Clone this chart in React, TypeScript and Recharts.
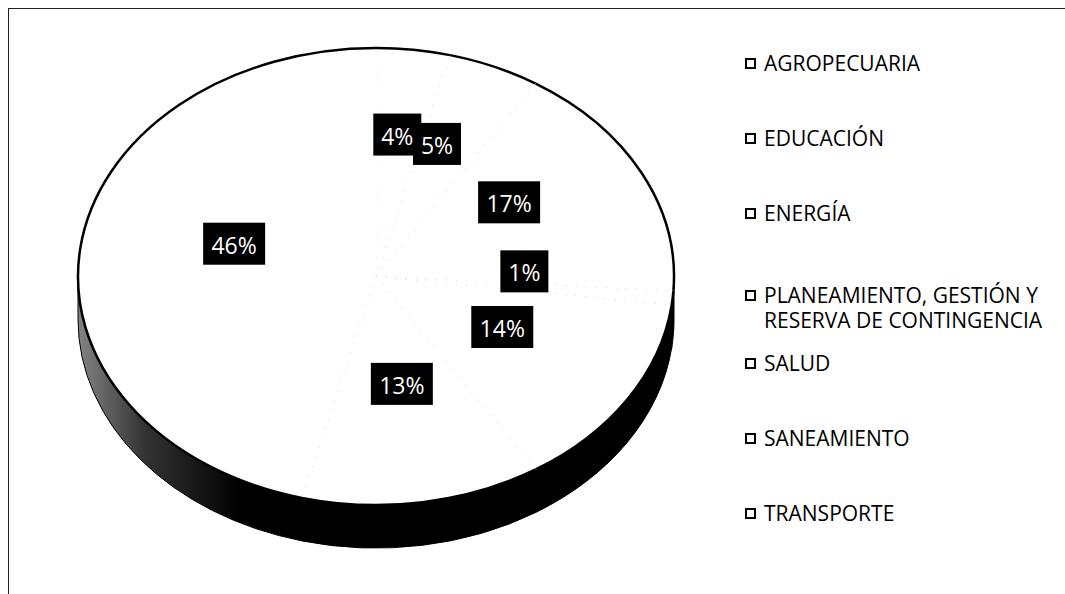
import { PieChart, Pie, Legend } from "recharts";

const CATEGORIES = [
  "AGROPECUARIA",
  "EDUCACIÓN",
  "ENERGÍA",
  "PLANEAMIENTO, GESTIÓN Y RESERVA DE CONTINGENCIA",
  "SALUD",
  "SANEAMIENTO",
  "TRANSPORTE",
];
const SHARES = [4, 5, 17, 1, 14, 13, 46];

const data = CATEGORIES.map((name, i) => ({ name, value: SHARES[i] }));

const FONT = "'Open Sans', 'Noto Sans', sans-serif";
const TILT = 0.767; // vertical squash of the pie
const DEPTH = 43; // thickness of the 3d wall
const RAD = Math.PI / 180;

function pt(cx: number, cy: number, rx: number, ry: number, a: number) {
  return [cx + rx * Math.cos(a * RAD), cy - ry * Math.sin(a * RAD)];
}

// top face, elliptical sector
function TopSlice(props: any) {
  const { cx, cy, outerRadius, startAngle, endAngle } = props;
  const rx = outerRadius;
  const ry = outerRadius * TILT;
  const [x1, y1] = pt(cx, cy, rx, ry, startAngle);
  const [x2, y2] = pt(cx, cy, rx, ry, endAngle);
  const large = Math.abs(endAngle - startAngle) > 180 ? 1 : 0;
  const sweep = startAngle > endAngle ? 1 : 0;
  const arc = `A ${rx} ${ry} 0 ${large} ${sweep} ${x2} ${y2}`;
  return (
    <g>
      <path d={`M ${cx} ${cy} L ${x1} ${y1} ${arc} Z`} fill="#fff" stroke="none" />
      <line x1={cx} y1={cy} x2={x1} y2={y1} stroke="#d4d4d4" strokeWidth={1} strokeDasharray="1 9" />
      <path d={`M ${x1} ${y1} ${arc}`} fill="none" stroke="#000" strokeWidth={2.5} />
    </g>
  );
}

// side wall, only the front (lower) half is visible
function WallSlice(props: any) {
  const { cx, cy, outerRadius, startAngle, endAngle } = props;
  const rx = outerRadius;
  const ry = outerRadius * TILT;
  const hi = Math.min(Math.max(startAngle, endAngle), 0);
  const lo = Math.max(Math.min(startAngle, endAngle), -180);
  if (lo >= hi) return <g />;
  const [ax, ay] = pt(cx, cy, rx, ry, hi);
  const [bx, by] = pt(cx, cy, rx, ry, lo);
  const large = hi - lo > 180 ? 1 : 0;
  const d = [
    `M ${ax} ${ay}`,
    `A ${rx} ${ry} 0 ${large} 1 ${bx} ${by}`,
    `L ${bx} ${by + DEPTH}`,
    `A ${rx} ${ry} 0 ${large} 0 ${ax} ${ay + DEPTH}`,
    "Z",
  ].join(" ");
  return <path d={d} fill="url(#wallGrad)" stroke="#000" strokeWidth={1} />;
}

function renderLabel(p: any) {
  const rx = p.outerRadius;
  const ry = rx * TILT;
  const x = p.cx + 3 + 0.49 * rx * Math.cos(p.midAngle * RAD);
  const y = p.cy - 17 - 0.551 * ry * Math.sin(p.midAngle * RAD);
  const txt = `${p.value}%`;
  const w = 20 + 14 * txt.length;
  const h = 42;
  return (
    <g>
      <rect x={x - w / 2} y={y - h / 2} width={w} height={h} fill="#000" />
      <text
        x={x}
        y={y + 1}
        textAnchor="middle"
        dominantBaseline="central"
        fill="#fff"
        fontSize={23}
        fontFamily={FONT}
      >
        {txt}
      </text>
    </g>
  );
}

function renderLegend({ payload }: any) {
  const seen = new Set<string>();
  const items = (payload || []).filter((e: any) => {
    if (e.type === "none" || seen.has(e.value)) return false;
    seen.add(e.value);
    return true;
  });
  return (
    <div style={{ fontFamily: FONT, fontSize: 21, color: "#000" }}>
      {items.map((entry: any) => {
        const multi = String(entry.value).length > 25;
        return (
          <div
            key={entry.value}
            style={{
              height: 75,
              boxSizing: "border-box",
              paddingTop: multi ? 32 : 25,
              display: "flex",
              alignItems: "flex-start",
              lineHeight: "25px",
            }}
          >
            <span
              style={{
                display: "inline-block",
                width: 7,
                height: 7,
                border: "2.5px solid #000",
                background: "#fff",
                marginTop: 7,
                marginRight: 8,
                flex: "none",
              }}
            />
            <span style={{ width: 300, whiteSpace: "normal" }}>{entry.value}</span>
          </div>
        );
      })}
    </div>
  );
}

export default function App() {
  return (
    <div style={{ width: 1065, height: 594, boxSizing: "border-box", padding: "8px 0 0 8px", overflow: "hidden" }}>
      <style>{"html,body{margin:0;overflow:hidden}"}</style>
      <div
        style={{
          position: "relative",
          width: 1057,
          height: 586,
          boxSizing: "border-box",
          borderTop: "1px solid #222",
          borderLeft: "1px solid #222",
          background: "#fff",
        }}
      >
        <PieChart width={1056} height={585}>
          <defs>
            <linearGradient id="wallGrad" gradientUnits="userSpaceOnUse" x1={64} y1={0} x2={660} y2={0}>
              <stop offset="0%" stopColor="#8a8a8a" />
              <stop offset="12%" stopColor="#333" />
              <stop offset="28%" stopColor="#000" />
              <stop offset="100%" stopColor="#000" />
            </linearGradient>
          </defs>
          <Pie
            data={data}
            dataKey="value"
            nameKey="name"
            cx={362}
            cy={262.5}
            outerRadius={298}
            startAngle={90}
            endAngle={-270}
            legendType="none"
            shape={WallSlice}
            inactiveShape={WallSlice}
            activeShape={WallSlice}
            isAnimationActive={false}
            fill="#000"
          />
          <Pie
            data={data}
            dataKey="value"
            nameKey="name"
            cx={362}
            cy={262.5}
            outerRadius={298}
            startAngle={90}
            endAngle={-270}
            legendType="square"
            shape={TopSlice}
            inactiveShape={TopSlice}
            activeShape={TopSlice}
            label={renderLabel}
            labelLine={false}
            isAnimationActive={false}
            fill="#fff"
          />
          <Legend
            layout="vertical"
            verticalAlign="top"
            align="right"
            content={renderLegend}
            wrapperStyle={{ position: "absolute", left: 736, top: 16.5, width: 320 }}
          />
        </PieChart>
      </div>
    </div>
  );
}
